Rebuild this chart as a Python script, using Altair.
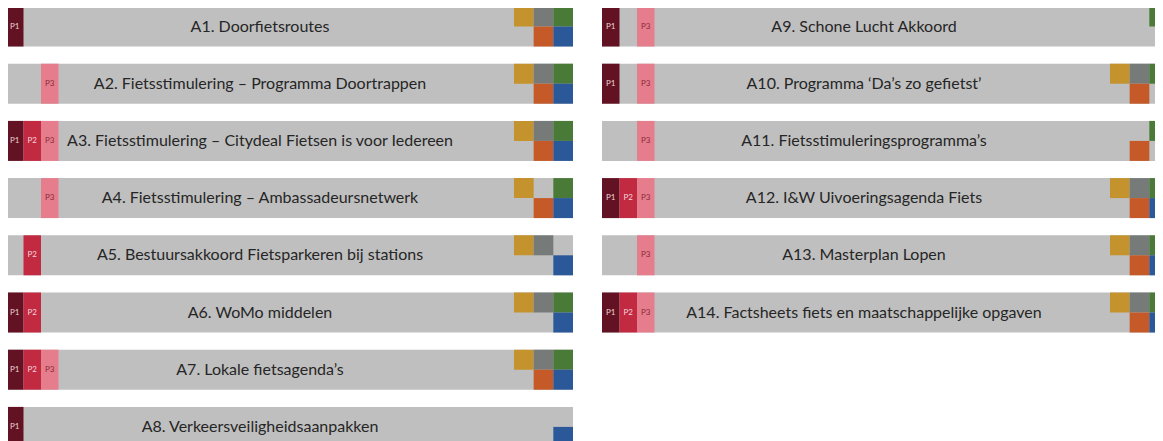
import altair as alt
import pandas as pd

# ---- data -------------------------------------------------------------
labels = [
    "A1. Doorfietsroutes",
    "A2. Fietsstimulering – Programma Doortrappen",
    "A3. Fietsstimulering – Citydeal Fietsen is voor Iedereen",
    "A4. Fietsstimulering – Ambassadeursnetwerk",
    "A5. Bestuursakkoord Fietsparkeren bij stations",
    "A6. WoMo middelen",
    "A7. Lokale fietsagenda’s",
    "A8. Verkeersveiligheidsaanpakken",
    "A9. Schone Lucht Akkoord",
    "A10. Programma ‘Da’s zo gefietst’",
    "A11. Fietsstimuleringsprogramma’s",
    "A12. I&W Uivoeringsagenda Fiets",
    "A13. Masterplan Lopen",
    "A14. Factsheets fiets en maatschappelijke opgaven",
]
column = [0, 0, 0, 0, 0, 0, 0, 0, 1, 1, 1, 1, 1, 1]
row = [0, 1, 2, 3, 4, 5, 6, 7, 0, 1, 2, 3, 4, 5]
phases = [
    ["P1"], ["P3"], ["P1", "P2", "P3"], ["P3"], ["P2"], ["P1", "P2"],
    ["P1", "P2", "P3"], ["P1"],
    ["P1", "P3"], ["P1", "P3"], ["P3"], ["P1", "P2", "P3"], ["P3"],
    ["P1", "P2", "P3"],
]
themes = [
    ["goud", "grijs", "groen", "oranje", "blauw"],
    ["goud", "grijs", "groen", "oranje", "blauw"],
    ["goud", "grijs", "groen", "oranje", "blauw"],
    ["goud", "groen", "oranje", "blauw"],
    ["goud", "grijs", "blauw"],
    ["goud", "grijs", "groen", "blauw"],
    ["goud", "grijs", "groen", "oranje", "blauw"],
    ["blauw"],
    ["groen"],
    ["goud", "grijs", "groen", "oranje"],
    ["groen", "oranje"],
    ["goud", "grijs", "groen", "oranje", "blauw"],
    ["goud", "grijs", "groen", "oranje", "blauw"],
    ["goud", "grijs", "groen", "oranje", "blauw"],
]

# ---- styles / layout ---------------------------------------------------
phase_slot = {"P1": 0, "P2": 1, "P3": 2}
phase_fill = {"P1": "#621222", "P2": "#C22A42", "P3": "#E67D8C"}
phase_text = {"P1": "#EBD3D7", "P2": "#F3D5DA", "P3": "#8A2A3A"}
theme_cell = {"goud": (0, 0), "grijs": (1, 0), "groen": (2, 0),
              "oranje": (1, 1), "blauw": (2, 1)}
theme_fill = {"goud": "#C4932E", "grijs": "#767B7A", "groen": "#4A7A37",
              "oranje": "#C55A28", "blauw": "#2B5899"}

COL_X = [6, 602]
LABEL_DX = [254, 262]
BAR_W = 567
TOP0, PITCH, BAR_H = 6.5, 57.2, 40
SLOT_W = 17.5
SQ = 19.67

bars, boxes, squares = [], [], []
for i, lab in enumerate(labels):
    col = column[i]
    x0 = COL_X[col]
    top = TOP0 + row[i] * PITCH
    bars.append(dict(x=x0, x2=x0 + BAR_W, y=top, y2=top + BAR_H,
                     tx=x0 + LABEL_DX[col], ty=top + BAR_H / 2, label=lab))
    for p in phases[i]:
        s = phase_slot[p]
        boxes.append(dict(x=x0 + s * SLOT_W, x2=x0 + (s + 1) * SLOT_W,
                          y=top, y2=top + BAR_H, tx=x0 + (s + 0.5) * SLOT_W,
                          ty=top + BAR_H / 2, p=p, fill=phase_fill[p],
                          tc=phase_text[p]))
    end = x0 + BAR_W
    for t in themes[i]:
        c, r = theme_cell[t]
        xa = end - (3 - c) * SQ
        squares.append(dict(x=xa, x2=xa + SQ, y=top + r * BAR_H / 2,
                            y2=top + (r + 1) * BAR_H / 2, fill=theme_fill[t]))

bars = pd.DataFrame(bars)
boxes = pd.DataFrame(boxes)
squares = pd.DataFrame(squares)

# page-pixel coordinate frame (8px page margin)
xs = alt.Scale(domain=[8, 1155], nice=False, zero=False)
ys = alt.Scale(domain=[441, 8], nice=False, zero=False)


def rect_layer(df, color):
    enc = dict(x=alt.X("x:Q", scale=xs, axis=None), x2="x2:Q",
               y=alt.Y("y:Q", scale=ys, axis=None), y2="y2:Q")
    if color is None:
        enc["color"] = alt.Color("fill:N", scale=None)
        return alt.Chart(df).mark_rect(strokeWidth=0).encode(**enc)
    return alt.Chart(df).mark_rect(color=color, strokeWidth=0).encode(**enc)


bar_layer = rect_layer(bars, "#BFBFBF")
box_layer = rect_layer(boxes, None)
sq_layer = rect_layer(squares, None)

label_layer = alt.Chart(bars).mark_text(
    font="Lato", fontSize=16, color="#262626", align="center",
    baseline="middle").encode(
    x=alt.X("tx:Q", scale=xs, axis=None),
    y=alt.Y("ty:Q", scale=ys, axis=None), text="label:N")

ptext_layer = alt.Chart(boxes).mark_text(
    font="Lato", fontSize=8, align="center", baseline="middle").encode(
    x=alt.X("tx:Q", scale=xs, axis=None),
    y=alt.Y("ty:Q", scale=ys, axis=None), text="p:N",
    color=alt.Color("tc:N", scale=None))

chart = alt.layer(bar_layer, box_layer, sq_layer, label_layer,
                  ptext_layer).properties(
    width=1147, height=433, padding=0,
    autosize=alt.AutoSizeParams(type="none"),
).configure_view(strokeWidth=0)

chart.save("out.html", embed_options={"renderer": "svg", "actions": False})
